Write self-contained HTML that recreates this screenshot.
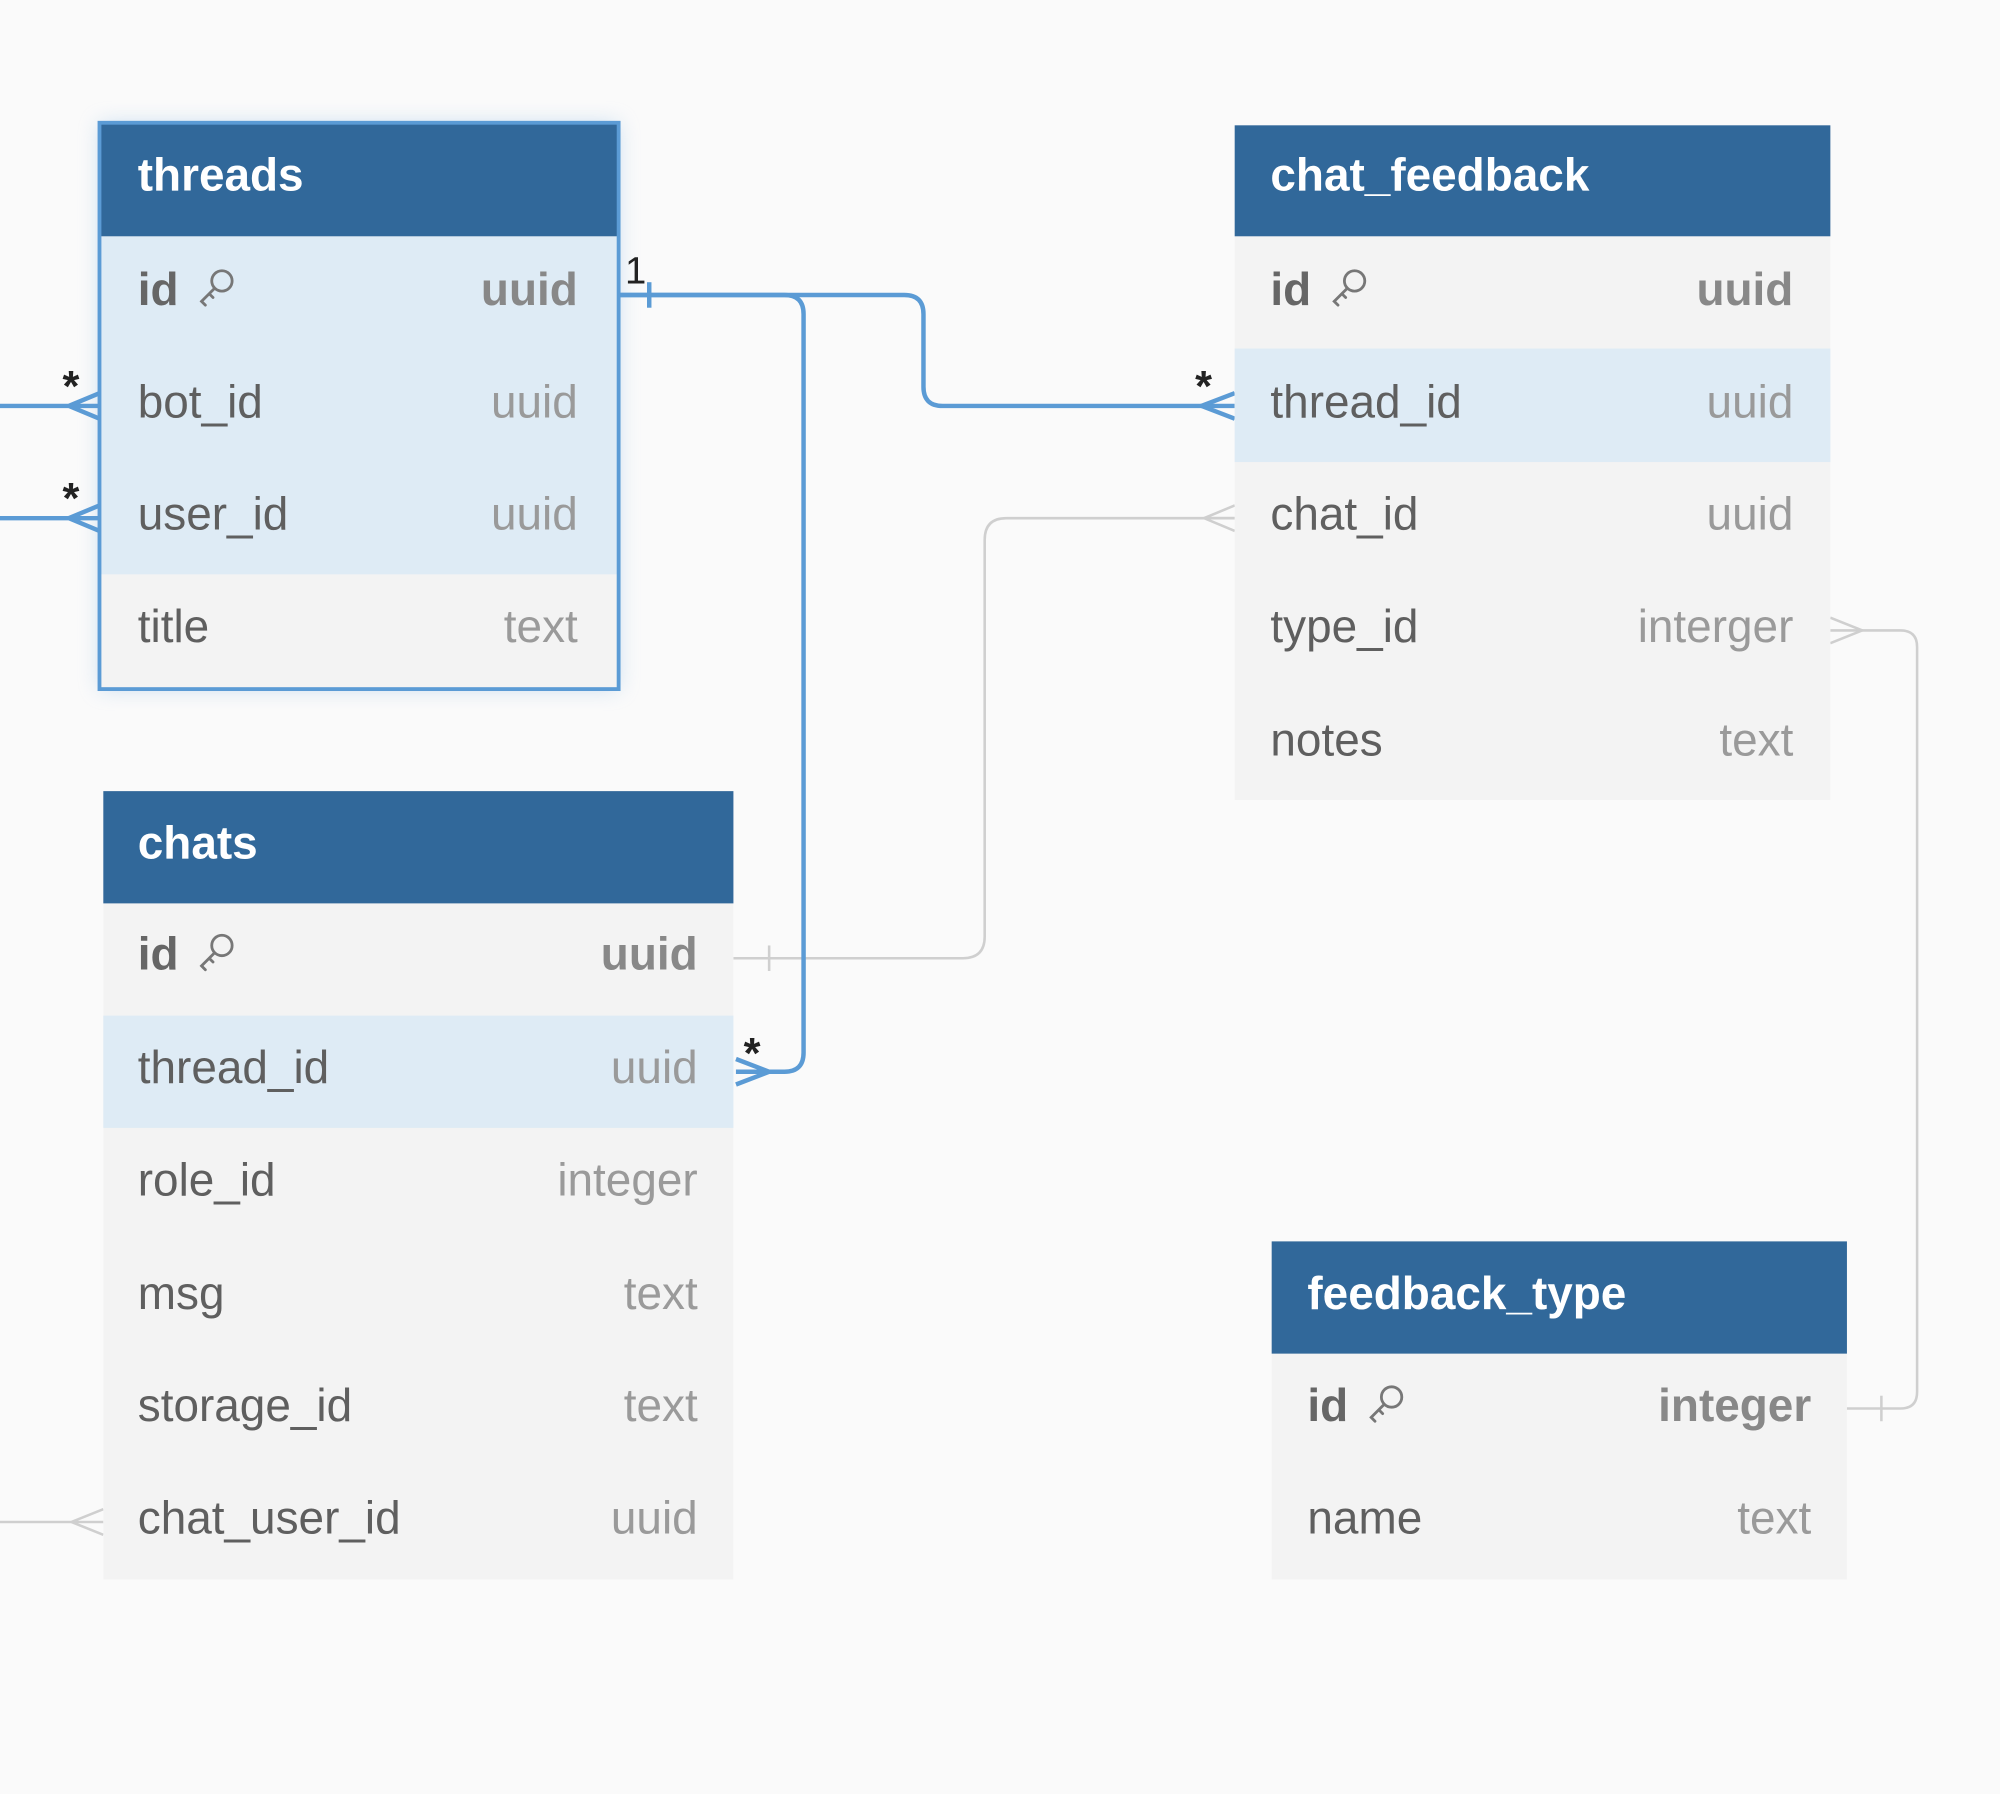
<!DOCTYPE html>
<html><head><meta charset="utf-8"><style>
html,body{margin:0;padding:0;background:#fafafa;}
svg{display:block;}
text{font-family:"Liberation Sans",sans-serif;}
</style></head><body>
<svg width="2000" height="1794" viewBox="0 0 1568 1406" xmlns="http://www.w3.org/2000/svg">
<defs>
<filter id="glow" x="-20%" y="-20%" width="140%" height="140%"><feGaussianBlur stdDeviation="8"/></filter>
<g id="key"><circle cx="5" cy="-5" r="8" fill="none" stroke="#777" stroke-width="2.2"/><path d="M-1 1 L-11 11 L-8 14 M-5 5 L-2 8" fill="none" stroke="#777" stroke-width="2.2" stroke-linecap="round"/></g>
</defs>
<rect width="1568" height="1406" fill="#fafafa"/>

<!-- gray connectors -->
<g fill="none" stroke="#cfcfcf" stroke-width="2">
<path d="M575 751 H755 Q772 751 772 734 V423 Q772 406 789 406 H968"/>
<path d="M603 741 V761"/>
<path d="M968 396 L944 406 L968 416 M944 406 H968"/>
<path d="M1435 494 H1490 Q1503 494 1503 507 V1091 Q1503 1104 1490 1104 H1448"/>
<path d="M1475 1094 V1114"/>
<path d="M1435 484 L1460 494 L1435 504"/>
<path d="M0 1193 H81 M81 1183 L56 1193 L81 1203"/>
</g>

<!-- threads shadow -->
<rect x="78" y="96" width="407" height="444" fill="#9cc3e6" opacity="0.5" filter="url(#glow)"/>

<!-- blue connectors -->
<g fill="none" stroke="#5b9bd5" stroke-width="3.5">
<path d="M485 231 H615 Q630 231 630 246 V825 Q630 840 615 840 H577"/>
<path d="M485 231 H709 Q724 231 724 246 V303 Q724 318 739 318 H968"/>
<path d="M509 221 V241"/>
<path d="M577 830 L603 840 L577 850 M577 840 H603"/>
<path d="M968 308 L942 318 L968 328"/>
<path d="M0 318 H78 M78 308 L54 318 L78 328"/>
<path d="M0 406 H78 M78 396 L54 406 L78 416"/>
</g>
<g font-size="34" fill="#222" font-weight="bold">
<text x="490" y="222" font-size="30" font-weight="normal">1</text>
<text x="937" y="314">*</text>
<text x="583" y="837">*</text>
<text x="49" y="314">*</text>
<text x="49" y="402">*</text>
</g>

<!-- threads -->
<rect x="78" y="96" width="407" height="444" fill="#f3f3f3"/>
<rect x="78" y="185" width="407" height="265" fill="#deebf5"/>
<rect x="78" y="96" width="407" height="89" fill="#31689a"/>
<rect x="78" y="96" width="407" height="444" fill="none" stroke="#5b9bd5" stroke-width="3"/>
<text x="108" y="149" font-size="36" font-weight="bold" fill="#fff">threads</text>
<g font-size="36">
<text x="108" y="239" font-weight="bold" fill="#666">id</text><use href="#key" x="169" y="225"/>
<text x="453" y="239" font-weight="bold" fill="#888" text-anchor="end">uuid</text>
<text x="108" y="327" fill="#5f5f5f">bot_id</text><text x="453" y="327" fill="#9a9a9a" text-anchor="end">uuid</text>
<text x="108" y="415" fill="#5f5f5f">user_id</text><text x="453" y="415" fill="#9a9a9a" text-anchor="end">uuid</text>
<text x="108" y="503" fill="#5f5f5f">title</text><text x="453" y="503" fill="#9a9a9a" text-anchor="end">text</text>
</g>

<!-- chat_feedback -->
<rect x="968" y="98" width="467" height="529" fill="#f3f3f3"/>
<rect x="968" y="273" width="467" height="89" fill="#deebf5"/>
<rect x="968" y="98" width="467" height="87" fill="#31689a"/>
<text x="996" y="149" font-size="36" font-weight="bold" fill="#fff">chat_feedback</text>
<g font-size="36">
<text x="996" y="239" font-weight="bold" fill="#666">id</text><use href="#key" x="1057" y="225"/>
<text x="1406" y="239" font-weight="bold" fill="#888" text-anchor="end">uuid</text>
<text x="996" y="327" fill="#5f5f5f">thread_id</text><text x="1406" y="327" fill="#9a9a9a" text-anchor="end">uuid</text>
<text x="996" y="415" fill="#5f5f5f">chat_id</text><text x="1406" y="415" fill="#9a9a9a" text-anchor="end">uuid</text>
<text x="996" y="503" fill="#5f5f5f">type_id</text><text x="1406" y="503" fill="#9a9a9a" text-anchor="end">interger</text>
<text x="996" y="592" fill="#5f5f5f">notes</text><text x="1406" y="592" fill="#9a9a9a" text-anchor="end">text</text>
</g>

<!-- chats -->
<rect x="81" y="620" width="494" height="618" fill="#f3f3f3"/>
<rect x="81" y="796" width="494" height="88" fill="#deebf5"/>
<rect x="81" y="620" width="494" height="88" fill="#31689a"/>
<text x="108" y="673" font-size="36" font-weight="bold" fill="#fff">chats</text>
<g font-size="36">
<text x="108" y="760" font-weight="bold" fill="#666">id</text><use href="#key" x="169" y="746"/>
<text x="547" y="760" font-weight="bold" fill="#888" text-anchor="end">uuid</text>
<text x="108" y="849" fill="#5f5f5f">thread_id</text><text x="547" y="849" fill="#9a9a9a" text-anchor="end">uuid</text>
<text x="108" y="937" fill="#5f5f5f">role_id</text><text x="547" y="937" fill="#9a9a9a" text-anchor="end">integer</text>
<text x="108" y="1026" fill="#5f5f5f">msg</text><text x="547" y="1026" fill="#9a9a9a" text-anchor="end">text</text>
<text x="108" y="1114" fill="#5f5f5f">storage_id</text><text x="547" y="1114" fill="#9a9a9a" text-anchor="end">text</text>
<text x="108" y="1202" fill="#5f5f5f">chat_user_id</text><text x="547" y="1202" fill="#9a9a9a" text-anchor="end">uuid</text>
</g>

<!-- feedback_type -->
<rect x="997" y="973" width="451" height="265" fill="#f3f3f3"/>
<rect x="997" y="973" width="451" height="88" fill="#31689a"/>
<text x="1025" y="1026" font-size="36" font-weight="bold" fill="#fff">feedback_type</text>
<g font-size="36">
<text x="1025" y="1114" font-weight="bold" fill="#666">id</text><use href="#key" x="1086" y="1100"/>
<text x="1420" y="1114" font-weight="bold" fill="#888" text-anchor="end">integer</text>
<text x="1025" y="1202" fill="#5f5f5f">name</text><text x="1420" y="1202" fill="#9a9a9a" text-anchor="end">text</text>
</g>
</svg>
</body></html>
